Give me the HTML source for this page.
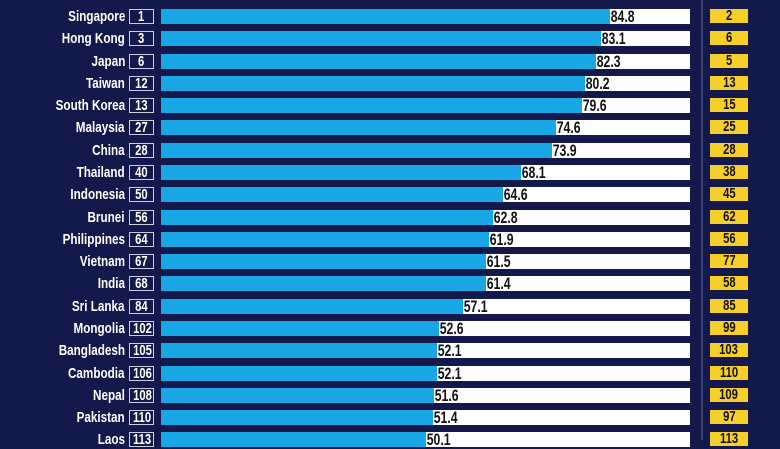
<!DOCTYPE html>
<html><head><meta charset="utf-8"><style>
body{margin:0;width:780px;height:440px;overflow:hidden;background:#13194a;font-family:"Liberation Sans",sans-serif;font-weight:bold}
.r{position:absolute;left:0;height:15px;width:780px}
.n{position:absolute;right:655px;top:0;line-height:15px;font-size:15px;color:#fff;white-space:nowrap;transform:scaleX(0.78);transform-origin:right center}
.k{position:absolute;left:129px;top:0;width:23px;height:13px;border:1.5px solid #c9cde0;color:#fff;font-size:15px;line-height:13px;text-align:center}
.k span,.y span{display:inline-block;transform:scaleX(0.75)}
.b{position:absolute;left:161px;top:0;width:529px;height:15px;background:#fff}
.f{position:absolute;left:0;top:0;height:15px;background:#1aa7e6}
.v{position:absolute;top:0;line-height:15px;font-size:17px;color:#111;padding-left:1px;transform:scaleX(0.72);transform-origin:left center}
.y{position:absolute;left:710px;top:0;width:38px;height:14px;background:#f7cf2a;color:#111;font-size:15px;line-height:14px;text-align:center}
.ln{position:absolute;left:701px;top:0;width:2px;height:440px;background:#394074}
</style></head><body>
<div class="ln"></div>
<div class="r" style="top:9px"><div class="n">Singapore</div><div class="k"><span>1</span></div><div class="b"><div class="f" style="width:448.6px"></div><div class="v" style="left:448.6px">84.8</div></div><div class="y"><span>2</span></div></div>
<div class="r" style="top:31.3px"><div class="n">Hong Kong</div><div class="k"><span>3</span></div><div class="b"><div class="f" style="width:439.6px"></div><div class="v" style="left:439.6px">83.1</div></div><div class="y"><span>6</span></div></div>
<div class="r" style="top:53.6px"><div class="n">Japan</div><div class="k"><span>6</span></div><div class="b"><div class="f" style="width:435.4px"></div><div class="v" style="left:435.4px">82.3</div></div><div class="y"><span>5</span></div></div>
<div class="r" style="top:75.8px"><div class="n">Taiwan</div><div class="k"><span>12</span></div><div class="b"><div class="f" style="width:424.3px"></div><div class="v" style="left:424.3px">80.2</div></div><div class="y"><span>13</span></div></div>
<div class="r" style="top:98.1px"><div class="n">South Korea</div><div class="k"><span>13</span></div><div class="b"><div class="f" style="width:421.1px"></div><div class="v" style="left:421.1px">79.6</div></div><div class="y"><span>15</span></div></div>
<div class="r" style="top:120.4px"><div class="n">Malaysia</div><div class="k"><span>27</span></div><div class="b"><div class="f" style="width:394.6px"></div><div class="v" style="left:394.6px">74.6</div></div><div class="y"><span>25</span></div></div>
<div class="r" style="top:142.7px"><div class="n">China</div><div class="k"><span>28</span></div><div class="b"><div class="f" style="width:390.9px"></div><div class="v" style="left:390.9px">73.9</div></div><div class="y"><span>28</span></div></div>
<div class="r" style="top:165px"><div class="n">Thailand</div><div class="k"><span>40</span></div><div class="b"><div class="f" style="width:360.2px"></div><div class="v" style="left:360.2px">68.1</div></div><div class="y"><span>38</span></div></div>
<div class="r" style="top:187.2px"><div class="n">Indonesia</div><div class="k"><span>50</span></div><div class="b"><div class="f" style="width:341.7px"></div><div class="v" style="left:341.7px">64.6</div></div><div class="y"><span>45</span></div></div>
<div class="r" style="top:209.5px"><div class="n">Brunei</div><div class="k"><span>56</span></div><div class="b"><div class="f" style="width:332.2px"></div><div class="v" style="left:332.2px">62.8</div></div><div class="y"><span>62</span></div></div>
<div class="r" style="top:231.8px"><div class="n">Philippines</div><div class="k"><span>64</span></div><div class="b"><div class="f" style="width:327.5px"></div><div class="v" style="left:327.5px">61.9</div></div><div class="y"><span>56</span></div></div>
<div class="r" style="top:254.1px"><div class="n">Vietnam</div><div class="k"><span>67</span></div><div class="b"><div class="f" style="width:325.3px"></div><div class="v" style="left:325.3px">61.5</div></div><div class="y"><span>77</span></div></div>
<div class="r" style="top:276.4px"><div class="n">India</div><div class="k"><span>68</span></div><div class="b"><div class="f" style="width:324.8px"></div><div class="v" style="left:324.8px">61.4</div></div><div class="y"><span>58</span></div></div>
<div class="r" style="top:298.6px"><div class="n">Sri Lanka</div><div class="k"><span>84</span></div><div class="b"><div class="f" style="width:302.1px"></div><div class="v" style="left:302.1px">57.1</div></div><div class="y"><span>85</span></div></div>
<div class="r" style="top:320.9px"><div class="n">Mongolia</div><div class="k"><span>102</span></div><div class="b"><div class="f" style="width:278.3px"></div><div class="v" style="left:278.3px">52.6</div></div><div class="y"><span>99</span></div></div>
<div class="r" style="top:343.2px"><div class="n">Bangladesh</div><div class="k"><span>105</span></div><div class="b"><div class="f" style="width:275.6px"></div><div class="v" style="left:275.6px">52.1</div></div><div class="y"><span>103</span></div></div>
<div class="r" style="top:365.5px"><div class="n">Cambodia</div><div class="k"><span>106</span></div><div class="b"><div class="f" style="width:275.6px"></div><div class="v" style="left:275.6px">52.1</div></div><div class="y"><span>110</span></div></div>
<div class="r" style="top:387.8px"><div class="n">Nepal</div><div class="k"><span>108</span></div><div class="b"><div class="f" style="width:273px"></div><div class="v" style="left:273px">51.6</div></div><div class="y"><span>109</span></div></div>
<div class="r" style="top:410px"><div class="n">Pakistan</div><div class="k"><span>110</span></div><div class="b"><div class="f" style="width:271.9px"></div><div class="v" style="left:271.9px">51.4</div></div><div class="y"><span>97</span></div></div>
<div class="r" style="top:432.3px"><div class="n">Laos</div><div class="k"><span>113</span></div><div class="b"><div class="f" style="width:265px"></div><div class="v" style="left:265px">50.1</div></div><div class="y"><span>113</span></div></div>
</body></html>
